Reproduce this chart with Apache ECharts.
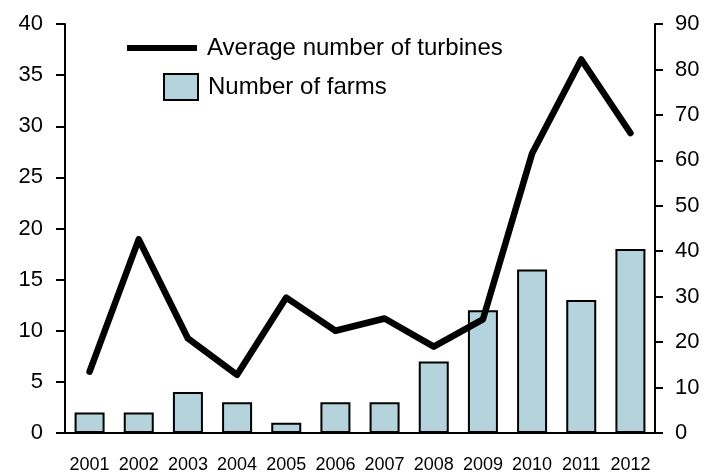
<!DOCTYPE html>
<html>
<head>
<meta charset="utf-8">
<script src="https://cdn.jsdelivr.net/npm/echarts@6/dist/echarts.min.js"></script>
<style>
  html, body { margin: 0; padding: 0; background: #ffffff; }
  #chart { width: 704px; height: 475px; }
</style>
</head>
<body>
<div id="chart"></div>
<script>
// data
const years = ["2001", "2002", "2003", "2004", "2005", "2006", "2007", "2008", "2009", "2010", "2011", "2012"];
const farms = [2, 2, 4, 3, 1, 3, 3, 7, 12, 16, 13, 18];
const avgTurbines = [13.5, 42.6, 20.8, 12.8, 29.8, 22.5, 25.2, 19, 25, 61.5, 82.2, 66];

const font = "Liberation Sans, Arial, sans-serif";
const barColor = "#b4d3dd";

const chart = echarts.init(document.getElementById("chart"));

const option = {
  animation: false,
  grid: { left: 65, right: 49, top: 24, bottom: 42 },
  legend: [
    {
      data: ["Average number of turbines"],
      left: 127,
      top: 36,
      padding: 0,
      icon: "rect",
      itemWidth: 70,
      itemHeight: 6,
      textStyle: { color: "#000", fontSize: 24, fontFamily: font, padding: [0, 0, 0, 5] }
    },
    {
      data: ["Number of farms"],
      left: 163,
      top: 73,
      padding: 0,
      icon: "rect",
      itemWidth: 34,
      itemHeight: 26,
      textStyle: { color: "#000", fontSize: 24, fontFamily: font, padding: [0, 0, 0, 5] }
    }
  ],
  xAxis: {
    type: "category",
    data: years,
    axisLine: { lineStyle: { color: "#000", width: 2 } },
    axisTick: { show: false },
    axisLabel: { color: "#000", fontSize: 18, fontFamily: font, margin: 23, interval: 0 }
  },
  yAxis: [
    {
      type: "value",
      min: 0,
      max: 40,
      interval: 5,
      axisLine: { show: true, lineStyle: { color: "#000", width: 2 } },
      axisTick: { show: true, length: 9, lineStyle: { color: "#000", width: 2 } },
      axisLabel: { color: "#000", fontSize: 22, fontFamily: font, margin: 22 },
      splitLine: { show: false }
    },
    {
      type: "value",
      min: 0,
      max: 90,
      interval: 10,
      position: "right",
      axisLine: { show: true, lineStyle: { color: "#000", width: 2 } },
      axisTick: { show: true, length: 8, lineStyle: { color: "#000", width: 2 } },
      axisLabel: { color: "#000", fontSize: 22, fontFamily: font, margin: 20 },
      splitLine: { show: false }
    }
  ],
  series: [
    {
      name: "Number of farms",
      type: "bar",
      data: farms,
      barWidth: 30,
      itemStyle: { color: barColor, borderColor: "#000", borderWidth: 2 }
    },
    {
      name: "Average number of turbines",
      type: "line",
      yAxisIndex: 1,
      data: avgTurbines,
      showSymbol: false,
      symbol: "none",
      itemStyle: { color: "#000" },
      lineStyle: { color: "#000", width: 6.5, cap: "round", join: "round" }
    }
  ]
};

chart.setOption(option);
</script>
</body>
</html>
